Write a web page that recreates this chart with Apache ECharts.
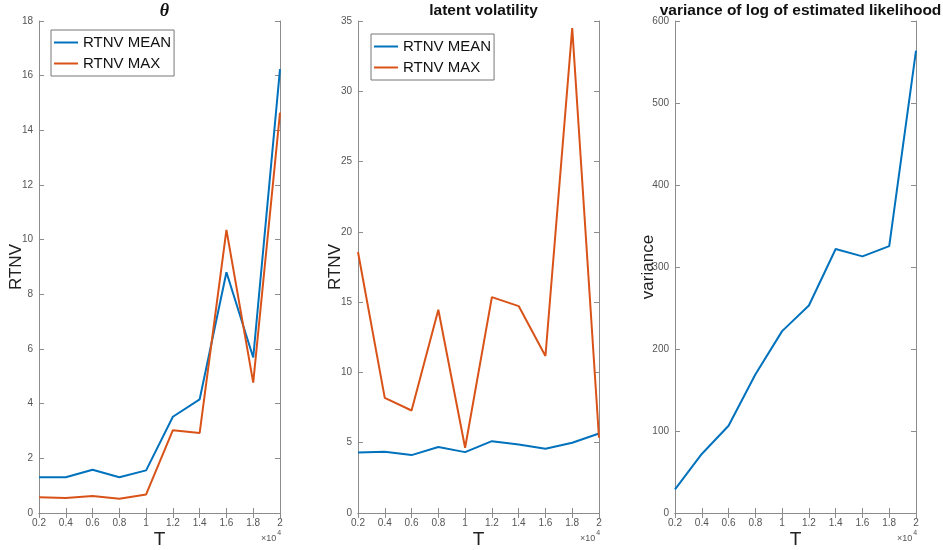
<!DOCTYPE html>
<html>
<head>
<meta charset="utf-8">
<script src="https://cdn.jsdelivr.net/npm/echarts@6/dist/echarts.min.js"></script>
<style>
  html, body { margin: 0; padding: 0; background: #fff; }
  #chart { width: 943px; height: 550px; }
</style>
</head>
<body>
<div id="chart"></div>
<script>
// T values (x axis), shown as multiples of 1e4
const T = [2000, 4000, 6000, 8000, 10000, 12000, 14000, 16000, 18000, 20000];

// theta panel
const thetaMean = [1.31, 1.31, 1.58, 1.31, 1.56, 3.52, 4.16, 8.81, 5.69, 16.24];
const thetaMax  = [0.58, 0.55, 0.62, 0.52, 0.68, 3.03, 2.93, 10.36, 4.77, 14.65];

// latent volatility panel
const volMean = [4.31, 4.36, 4.12, 4.69, 4.33, 5.11, 4.88, 4.57, 5.0, 5.66];
const volMax  = [18.57, 8.19, 7.29, 14.46, 4.64, 15.36, 14.72, 11.17, 34.5, 5.35];

// variance of log of estimated likelihood
const logLikVar = [28.9, 72, 106.4, 169, 221.8, 253, 322, 313, 325.5, 564];

const titles = ['θ', 'latent volatility', 'variance of log of estimated likelihood'];
const yNames = ['RTNV', 'RTNV', 'variance'];
const yMax = [18, 35, 600];
const yStep = [2, 5, 100];

const BLUE = '#0072BD';
const ORANGE = '#D95319';
const LINE_GRAY = '#8c8c8c';
const LABEL_GRAY = '#555555';

const gridLefts = [39, 358, 675];
const gridWidth = 241;
const nameGaps = [14, 14, 18];

function zip(ys) {
  return T.map((t, i) => [t, ys[i]]);
}

const grids = [];
const xAxes = [];
const yAxes = [];
const titleList = [];
const graphics = [];

for (let i = 0; i < 3; i++) {
  grids.push({ left: gridLefts[i], top: 21, width: gridWidth, height: 492, outerBoundsMode: 'none', containLabel: false });
  // bottom x axis
  xAxes.push({
    type: 'value', gridIndex: i, min: 2000, max: 20000, interval: 2000,
    name: 'T', nameLocation: 'middle', nameGap: 17, nameMoveOverlap: false,
    nameTextStyle: { fontSize: 19, color: '#222', fontFamily: 'Liberation Sans' },
    axisLine: { show: true, lineStyle: { color: LINE_GRAY, width: 1 } },
    axisTick: { show: true, inside: true, length: 5, lineStyle: { color: LINE_GRAY } },
    axisLabel: { color: LABEL_GRAY, fontSize: 10, margin: 5, fontFamily: 'Liberation Sans',
      formatter: v => String(v / 10000) },
    splitLine: { show: false }
  });
  // top mirror
  xAxes.push({
    type: 'value', gridIndex: i, position: 'top', min: 2000, max: 20000, interval: 2000,
    axisLine: { show: true, lineStyle: { color: LINE_GRAY, width: 1 } },
    axisTick: { show: true, inside: true, length: 5, lineStyle: { color: LINE_GRAY } },
    axisLabel: { show: false },
    splitLine: { show: false }
  });
  yAxes.push({
    type: 'value', gridIndex: i, min: 0, max: yMax[i], interval: yStep[i],
    name: yNames[i], nameLocation: 'middle', nameGap: nameGaps[i], nameMoveOverlap: false,
    nameTextStyle: { fontSize: 17, color: '#222', fontFamily: 'Liberation Sans' },
    axisLine: { show: true, lineStyle: { color: LINE_GRAY, width: 1 } },
    axisTick: { show: true, inside: true, length: 5, lineStyle: { color: LINE_GRAY } },
    axisLabel: { color: LABEL_GRAY, fontSize: 10, margin: 6, fontFamily: 'Liberation Sans' },
    splitLine: { show: false }
  });
  yAxes.push({
    type: 'value', gridIndex: i, position: 'right', min: 0, max: yMax[i], interval: yStep[i],
    axisLine: { show: true, lineStyle: { color: LINE_GRAY, width: 1 } },
    axisTick: { show: true, inside: true, length: 5, lineStyle: { color: LINE_GRAY } },
    axisLabel: { show: false },
    splitLine: { show: false }
  });
  titleList.push({
    text: titles[i],
    left: gridLefts[i] + gridWidth / 2,
    top: i === 0 ? -3 : -2,
    textAlign: 'center',
    textStyle: i === 0
      ? { fontSize: 18, fontWeight: 'bold', fontStyle: 'italic', fontFamily: 'Liberation Serif', color: '#111' }
      : { fontSize: 15.5, fontWeight: 'bold', fontFamily: 'Liberation Sans', color: '#111' }
  });
  // x10^4 exponent label
  graphics.push({
    type: 'text',
    left: gridLefts[i] + gridWidth - 19,
    top: 530,
    style: {
      text: '{a|×10}{b|4}',
      rich: {
        a: { fontSize: 9, fill: LABEL_GRAY, fontFamily: 'Liberation Sans', verticalAlign: 'bottom' },
        b: { fontSize: 7, fill: LABEL_GRAY, fontFamily: 'Liberation Sans', verticalAlign: 'top', padding: [0, 0, 6, 1] }
      }
    }
  });
}

function lineSeries(name, data, grid, color) {
  return {
    name: name, type: 'line', xAxisIndex: grid * 2, yAxisIndex: grid * 2,
    data: zip(data), symbol: 'none', smooth: false,
    lineStyle: { color: color, width: 2 }, itemStyle: { color: color },
    animation: false
  };
}

const legendBase = {
  orient: 'vertical',
  data: ['RTNV MEAN', 'RTNV MAX'],
  icon: 'rect',
  backgroundColor: '#fff',
  borderColor: '#777',
  borderWidth: 1,
  borderRadius: 0,
  padding: [4, 3, 4, 3],
  itemWidth: 24,
  itemHeight: 2,
  itemGap: 4,
  selectedMode: false,
  textStyle: { fontSize: 15, color: '#111', fontFamily: 'Liberation Sans', lineHeight: 17 }
};

const option = {
  animation: false,
  title: titleList,
  grid: grids,
  xAxis: xAxes,
  yAxis: yAxes,
  legend: [
    Object.assign({}, legendBase, { left: 51, top: 30 }),
    Object.assign({}, legendBase, { left: 371, top: 34 })
  ],
  graphic: graphics,
  series: [
    lineSeries('RTNV MEAN', thetaMean, 0, BLUE),
    lineSeries('RTNV MAX', thetaMax, 0, ORANGE),
    lineSeries('RTNV MEAN', volMean, 1, BLUE),
    lineSeries('RTNV MAX', volMax, 1, ORANGE),
    lineSeries('variance', logLikVar, 2, BLUE)
  ]
};

const chart = echarts.init(document.getElementById('chart'));
chart.setOption(option);
</script>
</body>
</html>
